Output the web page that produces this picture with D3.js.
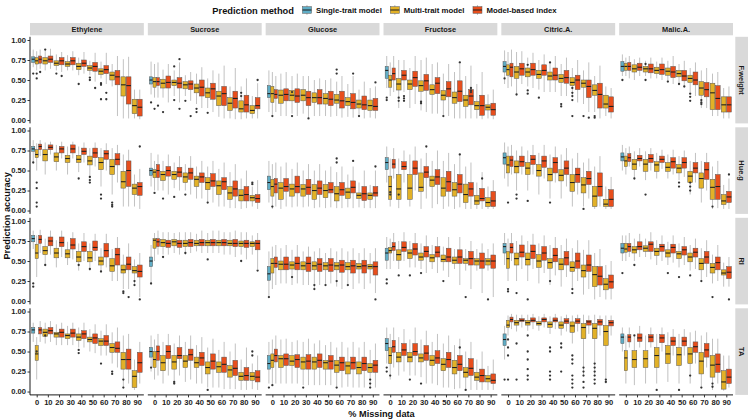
<!DOCTYPE html>
<html><head><meta charset="utf-8">
<script src="https://d3js.org/d3.v7.min.js"></script>
<style>body{margin:0;background:#fff}svg{display:block;font-family:"Liberation Sans",Arial,sans-serif}</style>
</head><body><svg id="c" width="748" height="420"></svg>
<script>
// ---------------- data ----------------
const colTraits = ["Ethylene","Sucrose","Glucose","Fructose","Citric.A.","Malic.A."];
const rowTraits = ["F.weight","Hue.g","RI","TA"];
const missing = ["0","10","20","30","40","50","60","70","80","90"];
const methods = ["Single-trait model","Multi-trait model","Model-based index"];
const methodColors = ["#5fadc6","#e2b127","#e84e1c"];
const yTicks = [0,0.25,0.5,0.75,1];
// each box: [lower whisker, Q1, median, Q3, upper whisker]; one array per facet column
const single_FW = [[.66,.72,.76,.79,.88],[.32,.45,.50,.54,.73],[.10,.28,.33,.43,.62],[.40,.52,.62,.67,.80],[.45,.60,.67,.73,.87],[.55,.61,.67,.73,.82]];
const multi_FW = [
 [[.62,.70,.74,.78,.86],[.62,.70,.74,.78,.88],[.62,.68,.71,.74,.82],[.62,.67,.70,.73,.81],[.56,.63,.67,.71,.78],[.56,.62,.65,.68,.74],[.52,.57,.61,.64,.73],[.42,.50,.56,.60,.70],[.02,.30,.44,.54,.76],[.02,.08,.18,.26,.38]],
 [[.28,.41,.48,.53,.70],[.28,.40,.46,.51,.63],[.30,.43,.47,.50,.62],[.30,.39,.44,.48,.56],[.20,.34,.40,.45,.58],[.15,.28,.34,.40,.52],[.04,.18,.30,.36,.58],[.02,.12,.21,.28,.42],[.01,.10,.14,.24,.42],[.02,.08,.12,.18,.30]],
 [[.05,.22,.33,.42,.60],[.05,.21,.31,.375,.58],[.08,.24,.31,.37,.55],[.08,.24,.31,.38,.55],[.05,.22,.28,.34,.50],[.05,.20,.27,.33,.50],[.05,.21,.25,.32,.48],[.04,.18,.23,.28,.45],[.04,.15,.20,.25,.38],[.03,.12,.18,.25,.40]],
 [[.30,.41,.50,.56,.72],[.15,.375,.45,.52,.75],[.15,.38,.45,.50,.65],[.12,.36,.43,.49,.75],[.08,.32,.38,.44,.70],[.05,.25,.31,.37,.58],[.02,.21,.28,.35,.60],[.02,.17,.25,.31,.55],[.02,.13,.18,.23,.45],[.02,.125,.16,.19,.32]],
 [[.40,.56,.63,.69,.85],[.30,.52,.60,.67,.85],[.42,.54,.60,.65,.78],[.38,.52,.57,.62,.75],[.35,.50,.55,.60,.72],[.30,.47,.52,.57,.70],[.28,.43,.47,.53,.65],[.20,.41,.46,.50,.62],[.10,.31,.37,.44,.55],[.05,.15,.20,.31,.42]],
 [[.55,.62,.67,.71,.78],[.50,.60,.64,.69,.76],[.55,.60,.64,.67,.74],[.52,.58,.62,.66,.73],[.48,.56,.61,.65,.74],[.45,.54,.58,.62,.70],[.35,.47,.52,.56,.65],[.15,.31,.40,.48,.62],[.05,.13,.34,.46,.58],[.02,.10,.19,.29,.40]]];
const index_FW = [
 [[.64,.71,.76,.80,.88],[.64,.72,.76,.80,.89],[.60,.69,.74,.78,.85],[.62,.69,.74,.78,.86],[.58,.67,.71,.75,.85],[.48,.61,.67,.72,.84],[.45,.58,.63,.68,.84],[.05,.44,.54,.62,.80],[.02,.20,.43,.54,.79],[.01,.05,.16,.26,.38]],
 [[.28,.43,.48,.53,.72],[.22,.40,.47,.55,.70],[.22,.40,.46,.53,.72],[.24,.38,.45,.49,.60],[.15,.30,.41,.50,.66],[.10,.26,.39,.46,.62],[.02,.18,.33,.42,.68],[.01,.15,.27,.36,.65],[.02,.10,.19,.31,.52],[.02,.14,.18,.28,.46]],
 [[.10,.27,.32,.38,.55],[.05,.24,.32,.39,.60],[.05,.22,.30,.39,.58],[.02,.18,.28,.36,.55],[.05,.20,.28,.38,.52],[.04,.18,.26,.36,.52],[.03,.15,.24,.36,.55],[.03,.14,.22,.33,.55],[.02,.13,.19,.30,.48],[.02,.12,.17,.27,.42]],
 [[.35,.50,.58,.65,.80],[.35,.50,.56,.62,.75],[.20,.42,.53,.61,.80],[.10,.37,.49,.57,.78],[.08,.33,.46,.53,.72],[.05,.29,.39,.48,.70],[.02,.23,.36,.49,.70],[.02,.19,.30,.38,.68],[.01,.06,.18,.31,.60],[.01,.06,.13,.21,.38]],
 [[.42,.54,.66,.71,.88],[.45,.56,.64,.71,.86],[.40,.56,.63,.71,.84],[.35,.56,.62,.69,.82],[.35,.50,.56,.65,.80],[.30,.46,.53,.62,.78],[.22,.38,.50,.56,.75],[.10,.28,.42,.50,.72],[.02,.15,.32,.46,.68],[.02,.10,.17,.29,.40]],
 [[.52,.62,.67,.72,.80],[.55,.62,.66,.71,.78],[.52,.59,.64,.70,.78],[.50,.57,.63,.70,.78],[.45,.53,.60,.67,.80],[.40,.49,.55,.62,.74],[.30,.44,.50,.60,.72],[.15,.29,.38,.47,.65],[.05,.13,.27,.43,.60],[.02,.10,.19,.29,.42]]];
const out_FW = [[0,0,0,.58],[0,0,1,.58],[0,0,1,.52],[0,0,2,.6],[0,1,1,.88],[0,2,1,.58],[0,2,2,.55],[0,4,1,.45],[0,5,1,.53],[0,5,1,.50],[0,6,1,.46],[0,6,1,.44],[0,6,1,.26],[0,5,2,.40],[0,6,2,.34],[0,6,2,.26],
 [1,0,0,.22],[1,0,1,.14],[1,0,2,.18],[1,1,1,.1],[1,2,1,.25],[1,2,1,.67],[1,2,2,.76],[1,2,2,.14],[1,3,1,.24],[1,3,2,.05],[1,4,1,.14],[1,4,1,.1],[1,5,1,.09],[1,8,1,.34],[1,8,1,.3],[1,9,2,.5],
 [2,0,1,.05],[2,2,1,.35],[2,2,1,.05],[2,3,2,.02],[2,6,1,.63],[2,6,1,.58],[2,7,2,.58],[2,9,2,.47],[2,8,1,.05],
 [3,0,0,.28],[3,0,0,.25],[3,1,1,.28],[3,1,1,.24],[3,1,2,.3],[3,1,2,.27],[3,1,2,.24],[3,3,1,.23],[3,3,1,.21],[3,5,1,.05],[3,6,2,.72],[3,7,2,.4],[3,7,2,.37],[3,7,2,.35],
 [4,0,0,.52],[4,1,1,.32],[4,2,1,.69],[4,2,1,.37],[4,2,1,.33],[4,3,1,.28],[4,4,1,.72],[4,5,1,.2],[4,5,1,.17],[4,6,1,.40],[4,6,1,.34],[4,6,1,.30],[4,6,1,.25],[4,6,1,.05],[4,7,1,.05],[4,7,2,.03],[4,8,1,.05],[4,8,1,.03],
 [5,0,0,.5],[5,2,1,.7],[5,2,1,.5],[5,4,1,.48],[5,5,1,.45],[5,5,2,.42],[5,6,1,.33],[5,6,1,.29],[5,6,1,.24],[5,7,1,.25],[5,7,1,.22],[5,7,1,.2]];

const single_Hue = [[.60,.74,.77,.80,.88],[.30,.44,.50,.53,.72],[.10,.26,.35,.43,.62],[.35,.51,.60,.66,.80],[.40,.58,.66,.72,.85],[.50,.62,.67,.72,.82]];
const multi_Hue = [
 [[.50,.66,.70,.76,.84],[.45,.62,.70,.76,.85],[.50,.61,.67,.72,.82],[.45,.60,.65,.69,.80],[.48,.60,.64,.69,.80],[.40,.57,.62,.68,.78],[.30,.51,.60,.66,.78],[.20,.45,.55,.64,.78],[.05,.28,.36,.49,.70],[.05,.20,.28,.33,.45]],
 [[.25,.41,.48,.51,.62],[.25,.375,.45,.49,.62],[.28,.39,.45,.49,.60],[.25,.35,.42,.47,.58],[.15,.30,.39,.43,.55],[.10,.26,.35,.41,.55],[.05,.20,.31,.37,.52],[.03,.14,.22,.30,.48],[.02,.12,.19,.26,.40],[.05,.12,.16,.19,.30]],
 [[.02,.18,.30,.39,.58],[.02,.14,.28,.35,.55],[.04,.18,.27,.33,.52],[.04,.18,.27,.325,.50],[.03,.14,.25,.325,.50],[.03,.16,.25,.325,.50],[.03,.12,.21,.30,.48],[.04,.15,.23,.28,.45],[.04,.15,.19,.22,.35],[.03,.14,.19,.22,.32]],
 [[.05,.14,.30,.43,.65],[.03,.14,.27,.45,.65],[.05,.14,.28,.45,.70],[.02,.24,.29,.47,.65],[.03,.30,.38,.43,.62],[.02,.18,.28,.41,.62],[.02,.18,.26,.35,.58],[.02,.10,.20,.33,.55],[.02,.075,.12,.19,.35],[.02,.05,.10,.16,.30]],
 [[.30,.47,.57,.68,.80],[.25,.47,.55,.62,.75],[.25,.45,.53,.60,.75],[.20,.43,.50,.575,.72],[.15,.37,.45,.53,.70],[.15,.37,.44,.51,.70],[.05,.24,.35,.45,.65],[.05,.22,.32,.41,.60],[.02,.05,.18,.30,.55],[.02,.05,.08,.14,.30]],
 [[.45,.55,.62,.68,.78],[.40,.51,.58,.64,.74],[.38,.49,.58,.64,.74],[.40,.49,.57,.61,.72],[.40,.49,.54,.60,.70],[.38,.47,.53,.575,.68],[.20,.35,.43,.49,.62],[.10,.28,.40,.47,.62],[.02,.14,.29,.39,.55],[.02,.075,.12,.20,.32]]];
const index_Hue = [
 [[.68,.76,.80,.83,.88],[.70,.76,.79,.82,.86],[.65,.72,.77,.80,.86],[.65,.72,.77,.82,.86],[.60,.70,.74,.78,.85],[.55,.66,.72,.78,.85],[.50,.64,.71,.75,.84],[.35,.57,.64,.71,.82],[.05,.30,.50,.62,.76],[.02,.19,.30,.35,.52]],
 [[.25,.41,.50,.575,.70],[.20,.43,.50,.55,.70],[.25,.42,.48,.54,.68],[.20,.39,.47,.53,.68],[.15,.35,.42,.47,.62],[.10,.30,.37,.46,.62],[.05,.26,.36,.41,.60],[.03,.18,.27,.37,.58],[.03,.12,.20,.30,.50],[.02,.10,.15,.20,.38]],
 [[.05,.22,.33,.40,.60],[.05,.24,.30,.40,.60],[.05,.22,.30,.43,.60],[.05,.20,.29,.39,.58],[.04,.20,.28,.37,.58],[.04,.22,.26,.35,.55],[.03,.19,.26,.35,.55],[.03,.22,.29,.37,.55],[.03,.125,.21,.30,.50],[.03,.18,.22,.30,.50]],
 [[.40,.53,.58,.64,.78],[.35,.51,.55,.61,.75],[.25,.45,.53,.62,.80],[.15,.41,.48,.55,.72],[.08,.325,.42,.51,.75],[.05,.24,.36,.49,.72],[.04,.22,.33,.45,.68],[.02,.18,.27,.35,.60],[.02,.12,.15,.275,.48],[.02,.05,.12,.24,.38]],
 [[.45,.55,.63,.68,.82],[.45,.55,.61,.68,.80],[.45,.575,.64,.69,.82],[.40,.54,.62,.68,.82],[.35,.47,.60,.66,.80],[.30,.45,.53,.62,.78],[.20,.35,.45,.53,.72],[.15,.325,.40,.49,.65],[.05,.18,.30,.47,.68],[.02,.05,.14,.26,.42]],
 [[.55,.61,.66,.71,.80],[.55,.62,.65,.69,.78],[.50,.60,.65,.70,.78],[.52,.60,.64,.68,.76],[.45,.53,.61,.66,.76],[.42,.53,.60,.66,.75],[.35,.47,.53,.60,.72],[.25,.39,.51,.60,.72],[.03,.14,.30,.45,.62],[.02,.10,.17,.24,.40]]];
const out_Hue = [[0,0,0,.6],[0,0,1,.35],[0,0,1,.28],[0,0,1,.1],[0,0,1,.05],[0,5,1,.42],[0,5,1,.38],[0,5,1,.35],[0,4,1,.40],[0,6,1,.2],[0,6,1,.15],[0,7,1,.1],[0,7,1,.07],[0,7,1,.05],[0,9,2,.8],
 [1,0,1,.22],[1,1,1,.15],[1,2,1,.17],[1,3,1,.2],[1,5,1,.1],[1,9,1,.35],[1,9,1,.33],
 [2,0,1,.05],[2,6,1,.65],[2,6,1,.6],[2,7,2,.62],[2,9,2,.55],
 [3,0,1,.23],[3,0,1,.2],[3,1,1,.2],[3,3,2,.8],[3,6,2,.7],[3,8,2,.4],
 [4,0,1,.1],[4,1,1,.2],[4,1,1,.15],[4,2,1,.12],[4,4,1,.1],[4,7,1,.02],
 [5,1,1,.4],[5,2,1,.2],[5,5,1,.35],[5,5,1,.3],[5,6,1,.35],[5,6,1,.3],[5,6,1,.25],[5,8,1,.05],[5,9,2,.45]];

const single_RI = [[.65,.74,.78,.82,.88],[.20,.43,.50,.55,.70],[.05,.26,.34,.43,.62],[.40,.51,.60,.66,.80],[.45,.60,.68,.72,.85],[.50,.60,.66,.72,.82]];
const multi_RI = [
 [[.30,.53,.60,.71,.82],[.45,.58,.63,.68,.78],[.42,.54,.60,.66,.76],[.45,.54,.59,.64,.74],[.38,.49,.55,.62,.72],[.38,.49,.54,.62,.72],[.35,.45,.50,.55,.66],[.25,.37,.44,.53,.65],[.15,.35,.39,.45,.58],[.20,.35,.38,.43,.52]],
 [[.50,.66,.76,.78,.85],[.58,.68,.73,.77,.86],[.60,.69,.74,.77,.85],[.58,.68,.72,.76,.86],[.62,.69,.72,.76,.84],[.60,.69,.73,.76,.85],[.60,.69,.73,.76,.88],[.58,.69,.72,.76,.86],[.58,.68,.72,.75,.86],[.58,.68,.72,.74,.82]],
 [[.15,.35,.47,.53,.68],[.22,.39,.46,.50,.66],[.20,.40,.45,.49,.64],[.20,.39,.44,.49,.62],[.15,.39,.44,.49,.62],[.20,.39,.44,.48,.60],[.18,.39,.44,.48,.62],[.20,.39,.43,.48,.62],[.22,.40,.43,.47,.60],[.22,.40,.43,.46,.60]],
 [[.40,.60,.63,.67,.78],[.40,.51,.58,.64,.75],[.42,.53,.60,.64,.75],[.40,.51,.55,.60,.72],[.40,.49,.54,.58,.70],[.38,.49,.52,.575,.68],[.40,.47,.51,.55,.65],[.38,.47,.51,.53,.65],[.38,.45,.50,.53,.65],[.38,.45,.50,.53,.65]],
 [[.25,.41,.53,.62,.78],[.25,.45,.53,.60,.75],[.25,.45,.52,.60,.75],[.22,.42,.50,.58,.72],[.20,.41,.48,.53,.70],[.18,.39,.46,.53,.70],[.15,.37,.42,.49,.66],[.08,.30,.38,.45,.64],[.02,.18,.33,.43,.60],[.02,.14,.21,.28,.45]],
 [[.50,.61,.65,.72,.82],[.50,.60,.64,.68,.78],[.55,.62,.66,.69,.78],[.45,.57,.62,.66,.76],[.45,.55,.60,.64,.74],[.42,.53,.59,.62,.72],[.38,.49,.55,.60,.70],[.25,.39,.47,.53,.66],[.22,.35,.42,.47,.58],[.18,.325,.35,.39,.48]]];
const index_RI = [
 [[.60,.72,.77,.82,.89],[.58,.69,.75,.80,.88],[.55,.68,.73,.80,.88],[.52,.65,.70,.78,.86],[.50,.62,.68,.74,.85],[.50,.63,.67,.75,.84],[.42,.55,.63,.72,.84],[.25,.45,.58,.66,.80],[.15,.39,.46,.55,.72],[.05,.30,.37,.45,.60]],
 [[.58,.68,.74,.78,.88],[.58,.67,.72,.76,.86],[.58,.67,.72,.76,.86],[.60,.68,.73,.77,.86],[.60,.69,.73,.77,.88],[.60,.69,.73,.77,.88],[.58,.69,.73,.77,.86],[.55,.68,.72,.77,.88],[.52,.67,.72,.76,.86],[.40,.64,.72,.76,.85]],
 [[.20,.42,.47,.55,.70],[.22,.39,.46,.55,.70],[.22,.39,.47,.55,.70],[.20,.37,.47,.55,.68],[.20,.37,.46,.53,.66],[.22,.37,.45,.53,.66],[.15,.36,.45,.51,.66],[.15,.35,.44,.51,.66],[.15,.35,.44,.51,.66],[.10,.325,.43,.49,.66]],
 [[.50,.63,.68,.73,.85],[.50,.62,.67,.74,.86],[.42,.575,.65,.72,.85],[.35,.55,.62,.68,.82],[.35,.55,.61,.68,.80],[.30,.49,.55,.66,.80],[.20,.47,.55,.64,.80],[.15,.45,.53,.62,.75],[.10,.41,.50,.60,.72],[.05,.41,.50,.575,.72]],
 [[.50,.60,.67,.72,.85],[.40,.55,.61,.70,.82],[.40,.53,.62,.70,.84],[.35,.51,.60,.68,.82],[.32,.49,.57,.66,.80],[.30,.45,.54,.62,.78],[.25,.41,.50,.60,.76],[.15,.37,.45,.575,.76],[.05,.20,.31,.43,.65],[.02,.16,.24,.325,.50]],
 [[.55,.62,.68,.72,.85],[.55,.64,.68,.74,.84],[.52,.62,.71,.74,.86],[.50,.62,.68,.71,.82],[.48,.60,.67,.71,.82],[.45,.575,.64,.68,.80],[.40,.55,.61,.66,.78],[.30,.47,.55,.62,.76],[.25,.39,.48,.55,.70],[.18,.28,.36,.43,.55]]];
const out_RI = [[0,0,0,.22],[0,0,0,.18],[0,1,1,.45],[0,4,1,.45],[0,5,1,.4],[0,6,1,.37],[0,8,1,.12],[0,8,1,.1],[0,8,2,.05],[0,9,1,.25],[0,9,1,.2],[0,9,2,.02],
 [1,0,0,.22],[1,1,1,.55],[1,3,1,.6],[1,5,1,.52],[1,8,1,.5],[1,9,2,.38],
 [2,0,0,.05],[2,2,1,.3],[2,4,1,.2],[2,4,1,.15],[2,5,1,.2],[2,6,1,.25],[2,7,1,.2],[2,9,2,.02],
 [3,0,0,.27],[3,0,0,.22],[3,1,1,.32],[3,2,1,.32],[3,3,1,.35],[3,5,1,.25],[3,7,1,.05],[3,9,1,.02],
 [4,0,1,.15],[4,0,1,.12],[4,1,1,.1],[4,2,1,.02],[4,4,1,.25],[4,6,1,.15],[4,6,1,.1],
 [5,0,0,.35],[5,1,1,.45],[5,4,1,.35],[5,5,1,.3],[5,6,1,.32],[5,7,1,.25],[5,8,1,.05],[5,9,2,.02]];

const single_TA = [[.62,.73,.77,.80,.86],[.25,.43,.50,.55,.70],[.10,.28,.35,.45,.62],[.35,.51,.60,.66,.80],[.40,.575,.65,.72,.82],[.50,.60,.68,.72,.80]];
const multi_TA = [
 [[.15,.39,.47,.575,.68],[.60,.69,.74,.78,.86],[.58,.68,.72,.74,.84],[.58,.66,.70,.72,.82],[.55,.64,.68,.72,.80],[.50,.62,.65,.68,.78],[.45,.575,.63,.66,.76],[.35,.49,.55,.60,.74],[.05,.28,.40,.49,.70],[.02,.05,.19,.26,.40]],
 [[.15,.30,.40,.50,.65],[.10,.26,.36,.45,.62],[.10,.28,.37,.45,.60],[.12,.30,.38,.45,.62],[.10,.30,.36,.43,.58],[.05,.22,.30,.37,.55],[.05,.24,.31,.37,.52],[.03,.18,.27,.325,.50],[.02,.14,.19,.24,.40],[.03,.14,.19,.24,.35]],
 [[.08,.30,.39,.47,.65],[.10,.30,.41,.45,.65],[.10,.325,.38,.45,.62],[.08,.28,.37,.43,.62],[.08,.28,.37,.43,.60],[.08,.28,.36,.39,.58],[.06,.24,.33,.39,.55],[.06,.22,.32,.37,.55],[.05,.22,.30,.37,.55],[.05,.24,.30,.35,.52]],
 [[.15,.35,.45,.55,.72],[.20,.37,.43,.49,.68],[.20,.37,.43,.49,.65],[.18,.37,.42,.47,.65],[.10,.325,.39,.45,.62],[.05,.26,.34,.41,.60],[.03,.22,.30,.39,.58],[.02,.18,.24,.30,.50],[.02,.14,.18,.24,.40],[.02,.12,.16,.20,.32]],
 [[.70,.80,.83,.89,.95],[.75,.83,.86,.89,.96],[.76,.83,.86,.89,.96],[.76,.83,.85,.875,.94],[.72,.80,.84,.87,.94],[.70,.79,.83,.87,.94],[.60,.74,.82,.87,.95],[.20,.66,.80,.85,.96],[.20,.66,.79,.85,.96],[.10,.575,.75,.825,.95]],
 [[.10,.26,.42,.51,.70],[.08,.30,.40,.51,.68],[.10,.30,.41,.51,.70],[.10,.30,.45,.55,.72],[.12,.35,.47,.575,.74],[.10,.325,.46,.55,.72],[.10,.35,.47,.55,.74],[.05,.22,.38,.49,.70],[.02,.18,.33,.45,.66],[.01,.03,.12,.26,.45]]];
const index_TA = [
 [[.62,.72,.77,.80,.88],[.62,.72,.76,.80,.88],[.58,.68,.74,.78,.86],[.58,.68,.73,.78,.86],[.55,.66,.72,.76,.86],[.48,.60,.67,.72,.84],[.45,.575,.63,.70,.84],[.30,.49,.54,.62,.80],[.10,.28,.40,.53,.72],[.10,.24,.36,.49,.62]],
 [[.20,.39,.50,.57,.72],[.20,.41,.50,.575,.72],[.20,.41,.45,.55,.70],[.15,.39,.46,.53,.70],[.10,.325,.42,.49,.68],[.05,.28,.38,.47,.66],[.03,.24,.34,.43,.62],[.03,.20,.29,.39,.60],[.02,.14,.20,.30,.55],[.02,.12,.18,.26,.45]],
 [[.10,.37,.45,.53,.70],[.10,.325,.41,.47,.66],[.10,.30,.40,.46,.64],[.08,.28,.38,.46,.66],[.08,.30,.39,.47,.64],[.08,.28,.38,.45,.62],[.05,.26,.36,.43,.62],[.05,.28,.36,.43,.62],[.05,.26,.35,.43,.62],[.05,.24,.33,.39,.60]],
 [[.30,.49,.56,.64,.80],[.25,.45,.52,.60,.78],[.20,.45,.50,.60,.80],[.10,.39,.48,.575,.76],[.08,.35,.42,.51,.72],[.05,.30,.40,.49,.70],[.04,.26,.34,.45,.66],[.02,.20,.29,.41,.62],[.02,.12,.20,.28,.50],[.02,.10,.14,.22,.40]],
 [[.78,.87,.90,.93,.97],[.80,.875,.89,.91,.96],[.78,.87,.89,.92,.97],[.80,.87,.90,.92,.97],[.78,.87,.89,.92,.97],[.75,.85,.88,.91,.96],[.75,.85,.88,.91,.96],[.72,.83,.87,.89,.95],[.70,.83,.87,.90,.95],[.70,.82,.86,.89,.95]],
 [[.55,.62,.68,.71,.80],[.55,.625,.67,.72,.82],[.55,.62,.68,.71,.80],[.50,.61,.67,.71,.80],[.45,.575,.63,.68,.78],[.45,.57,.63,.68,.78],[.35,.49,.56,.62,.76],[.30,.43,.52,.60,.74],[.10,.24,.34,.47,.66],[.05,.10,.18,.28,.45]]];
const out_TA = [[0,0,1,.5],[0,1,1,.7],[0,4,1,.52],[0,4,1,.48],[0,6,1,.35],[0,7,1,.25],[0,7,1,.22],[0,8,1,.15],[0,8,1,.05],
 [1,0,0,.3],[1,2,1,.12],[1,2,1,.1],[1,5,1,.02],[1,9,1,.5],[1,9,1,.45],
 [2,0,0,.05],[2,0,1,.08],[2,3,1,.05],[2,9,1,.15],[2,9,1,.1],[2,9,1,.05],[2,6,1,.05],
 [3,0,0,.3],[3,0,0,.25],[3,0,1,.2],[3,2,1,.15],[3,3,1,.1],[3,6,2,.55],[3,7,1,.02],
 [4,0,0,.15],[4,0,1,.65],[4,0,1,.55],[4,0,1,.45],[4,0,1,.15],[4,1,1,.6],[4,1,1,.15],[4,2,1,.7],[4,2,1,.5],[4,2,1,.4],[4,2,1,.28],[4,2,1,.2],[4,2,1,.15],[4,4,1,.55],[4,4,1,.5],[4,4,1,.25],[4,4,1,.2],[4,4,1,.15],[4,5,1,.6],[4,5,1,.55],[4,5,1,.25],[4,6,1,.45],[4,6,1,.4],[4,6,1,.35],[4,6,1,.2],[4,6,1,.15],[4,6,1,.1],[4,6,1,.05],[4,7,1,.3],[4,7,1,.25],[4,7,1,.2],[4,7,1,.12],[4,7,1,.05],[4,8,1,.35],[4,8,1,.3],[4,8,1,.25],[4,8,1,.2],[4,8,1,.15],[4,8,1,.1],[4,9,1,.15],[4,9,1,.12],
 [5,1,1,.7],[5,3,1,.02],[5,5,1,.02],[5,6,1,.2],[5,7,1,.05],[5,8,1,.1],[5,8,1,.06]];

// ---------------- layout ----------------
const singles = [single_FW, single_Hue, single_RI, single_TA];
const multis = [multi_FW, multi_Hue, multi_RI, multi_TA];
const indexes = [index_FW, index_Hue, index_RI, index_TA];
const outs = [out_FW, out_Hue, out_RI, out_TA];

const svg = d3.select("#c");
const font = '"Liberation Sans",Arial,sans-serif';
const plotL = 30, plotR = 733, gapX = 4;
const panelW = (plotR - plotL - gapX * 5) / 6;
const rowTop0 = 36.8, rowStep = 90.5, panelH = 86.6;
const yDomain = [-0.042, 1.04];
const stripTop = 23, stripH = 12.3;

const x = d3.scalePoint().domain(missing).range([0, panelW]).padding(0.6);
const step = x.step();
const y = d3.scaleLinear().domain(yDomain).range([panelH, 0]);

function panelX(c){ return plotL + c * (panelW + gapX); }
function panelY(r){ return rowTop0 + r * rowStep; }

// top strips
colTraits.forEach((t, c) => {
  const g = svg.append("g").attr("transform", `translate(${panelX(c)},${stripTop})`);
  g.append("rect").attr("width", panelW).attr("height", stripH).attr("fill", "#d9d9d9");
  g.append("text").attr("x", panelW/2).attr("y", stripH/2 + 2.6).attr("text-anchor","middle")
   .attr("font-size", 7.4).attr("font-weight","bold").attr("fill","#1a1a1a").text(t);
});
// right strips
rowTraits.forEach((t, r) => {
  const g = svg.append("g").attr("transform", `translate(${plotR + 2.3},${panelY(r)})`);
  g.append("rect").attr("width", 13).attr("height", panelH).attr("fill", "#d9d9d9");
  g.append("text").attr("transform", `translate(${6.5 - 2.6},${panelH/2}) rotate(90)`).attr("text-anchor","middle")
   .attr("font-size", 7.4).attr("font-weight","bold").attr("fill","#1a1a1a").text(t);
});

for (let r = 0; r < 4; r++) {
  for (let c = 0; c < 6; c++) {
    const g = svg.append("g").attr("transform", `translate(${panelX(c)},${panelY(r)})`);
    // boxes
    missing.forEach((m, i) => {
      const present = i === 0 ? [0,1,2] : [1,2];
      const inner = d3.scaleBand().domain(present).range([-step*0.45, step*0.45]).paddingInner(0.1);
      present.forEach(k => {
        const b = k === 0 ? singles[r][c] : (k === 1 ? multis[r][c][i] : indexes[r][c][i]);
        const bx = x(m) + inner(k);
        const bw = inner.bandwidth();
        const cx = bx + bw/2;
        g.append("line").attr("x1", cx).attr("x2", cx).attr("y1", y(b[3])).attr("y2", y(b[4]))
          .attr("stroke", "#b3b3b3").attr("stroke-width", 0.8);
        g.append("line").attr("x1", cx).attr("x2", cx).attr("y1", y(b[0])).attr("y2", y(b[1]))
          .attr("stroke", "#b3b3b3").attr("stroke-width", 0.8);
        g.append("rect").attr("x", bx).attr("y", y(b[3])).attr("width", bw).attr("height", y(b[1]) - y(b[3]))
          .attr("fill", methodColors[k]).attr("stroke", "#555").attr("stroke-width", 0.5);
        g.append("line").attr("x1", bx).attr("x2", bx + bw).attr("y1", y(b[2])).attr("y2", y(b[2]))
          .attr("stroke", "#1f1f1f").attr("stroke-width", 1.1);
      });
    });
    // outliers
    outs[r].filter(o => o[0] === c).forEach(o => {
      const i = o[1], k = o[2];
      const present = i === 0 ? [0,1,2] : [1,2];
      const inner = d3.scaleBand().domain(present).range([-step*0.45, step*0.45]).paddingInner(0.1);
      g.append("circle").attr("cx", x(missing[i]) + inner(k) + inner.bandwidth()/2).attr("cy", y(o[3]))
        .attr("r", 1.15).attr("fill", "#333");
    });
    // y axis in first column
    if (c === 0) {
      const ax = g.append("g").call(d3.axisLeft(y).tickValues(yTicks).tickSize(2.5).tickFormat(d3.format(".2f")));
      ax.select(".domain").attr("stroke","#000").attr("stroke-width",0.9).attr("d", `M0,0V${panelH}`);
      ax.selectAll(".tick line").attr("stroke","#333");
      ax.selectAll("text").attr("font-size", 7.6).attr("font-weight","bold").attr("fill","#222")
        .attr("font-family", font).attr("x", -4);
    }
    // x axis in last row
    if (r === 3) {
      const ax = g.append("g").attr("transform", `translate(0,${panelH})`)
        .call(d3.axisBottom(x).tickSize(2.5));
      ax.select(".domain").attr("stroke","#000").attr("stroke-width",0.9).attr("d", `M0,0H${panelW}`);
      ax.selectAll(".tick line").attr("stroke","#333");
      ax.selectAll("text").attr("font-size", 7.6).attr("font-weight","bold").attr("fill","#222")
        .attr("font-family", font).attr("y", 5);
    }
  }
}

// axis titles
svg.append("text").attr("x", (plotL + plotR)/2).attr("y", 417).attr("text-anchor","middle")
  .attr("font-size", 9.2).attr("font-weight","bold").attr("fill","#111").text("% Missing data");
svg.append("text").attr("transform", `translate(10,${(panelY(0) + panelY(3) + panelH)/2}) rotate(-90)`)
  .attr("text-anchor","middle").attr("font-size", 9.2).attr("font-weight","bold").attr("fill","#111").text("Prediction accuracy");

// legend
const leg = svg.append("g");
const lt = leg.append("text").attr("x", 0).attr("y", 13.5).attr("font-size", 9.3).attr("font-weight","bold").attr("fill","#111").text("Prediction method");
let lx = lt.node().getComputedTextLength() + 8;
methods.forEach((m, k) => {
  const kg = leg.append("g").attr("transform", `translate(${lx},4.5)`);
  kg.append("line").attr("x1",5).attr("x2",5).attr("y1",0.5).attr("y2",10.5).attr("stroke","#b3b3b3").attr("stroke-width",0.8);
  kg.append("rect").attr("x",0.5).attr("y",2.2).attr("width",9).attr("height",6.6).attr("fill",methodColors[k]).attr("stroke","#555").attr("stroke-width",0.5);
  kg.append("line").attr("x1",0.5).attr("x2",9.5).attr("y1",5.5).attr("y2",5.5).attr("stroke","#1f1f1f").attr("stroke-width",1);
  const tt = leg.append("text").attr("x", lx + 14).attr("y", 12.8).attr("font-size", 7.8).attr("font-weight","bold").attr("fill","#111").text(m);
  lx += 14 + tt.node().getComputedTextLength() + 8;
});
const legW = lx - 8;
leg.attr("transform", `translate(${(plotL + plotR)/2 - legW/2 + 3},0)`);
</script></body></html>
